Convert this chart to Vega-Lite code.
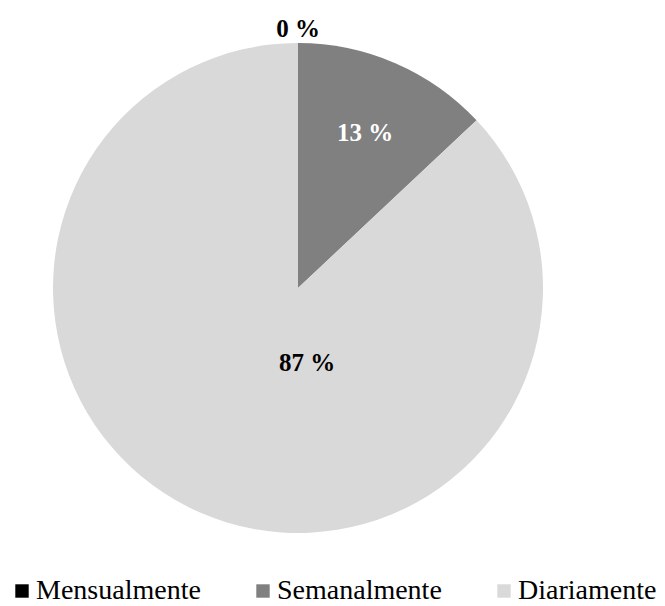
{
  "$schema": "https://vega.github.io/schema/vega-lite/v6.json",
  "width": 596,
  "height": 576,
  "autosize": {"type": "none"},
  "padding": {"left": 0, "top": 0, "right": 69, "bottom": 30},
  "background": "white",
  "config": {"view": {"stroke": null}, "font": "Liberation Serif"},
  "data": {
    "values": [
      {"cat": "Mensualmente", "pct": 0, "ord": 1, "label": "0 %"},
      {"cat": "Semanalmente", "pct": 13, "ord": 2, "label": "13 %"},
      {"cat": "Diariamente", "pct": 87, "ord": 3, "label": "87 %"}
    ]
  },
  "encoding": {
    "theta": {"field": "pct", "type": "quantitative", "stack": true},
    "order": {"field": "ord", "type": "quantitative"}
  },
  "layer": [
    {
      "mark": {"type": "arc", "radius": 245},
      "encoding": {
        "color": {
          "field": "cat",
          "type": "nominal",
          "scale": {
            "domain": ["Mensualmente", "Semanalmente", "Diariamente"],
            "range": ["#000000", "#808080", "#d9d9d9"]
          },
          "legend": {
            "title": null,
            "orient": "none",
            "legendX": 8,
            "legendY": 577,
            "direction": "horizontal",
            "symbolType": "square",
            "symbolSize": 180,
            "symbolStrokeWidth": 0,
            "labelFont": "Liberation Serif",
            "labelFontSize": 28,
            "labelColor": "black",
            "labelOffset": 0,
            "columnPadding": 48,
            "labelLimit": 300
          }
        }
      }
    },
    {
      "mark": {"type": "text", "radius": 259, "fontSize": 25, "fontWeight": "bold", "font": "Liberation Serif", "color": "black", "baseline": "middle", "align": "center"},
      "encoding": {
        "detail": {"field": "cat", "type": "nominal"},
        "text": {"condition": {"test": "datum.cat === 'Mensualmente'", "field": "label"}, "value": ""}
      }
    },
    {
      "mark": {"type": "text", "radius": 169, "fontSize": 25, "fontWeight": "bold", "font": "Liberation Serif", "color": "white", "baseline": "middle", "align": "center"},
      "encoding": {
        "detail": {"field": "cat", "type": "nominal"},
        "text": {"condition": {"test": "datum.cat === 'Semanalmente'", "field": "label"}, "value": ""}
      }
    },
    {
      "mark": {"type": "text", "radius": 75, "dx": 39, "dy": 6, "fontSize": 25, "fontWeight": "bold", "font": "Liberation Serif", "color": "black", "baseline": "middle", "align": "center"},
      "encoding": {
        "detail": {"field": "cat", "type": "nominal"},
        "text": {"condition": {"test": "datum.cat === 'Diariamente'", "field": "label"}, "value": ""}
      }
    }
  ]
}
